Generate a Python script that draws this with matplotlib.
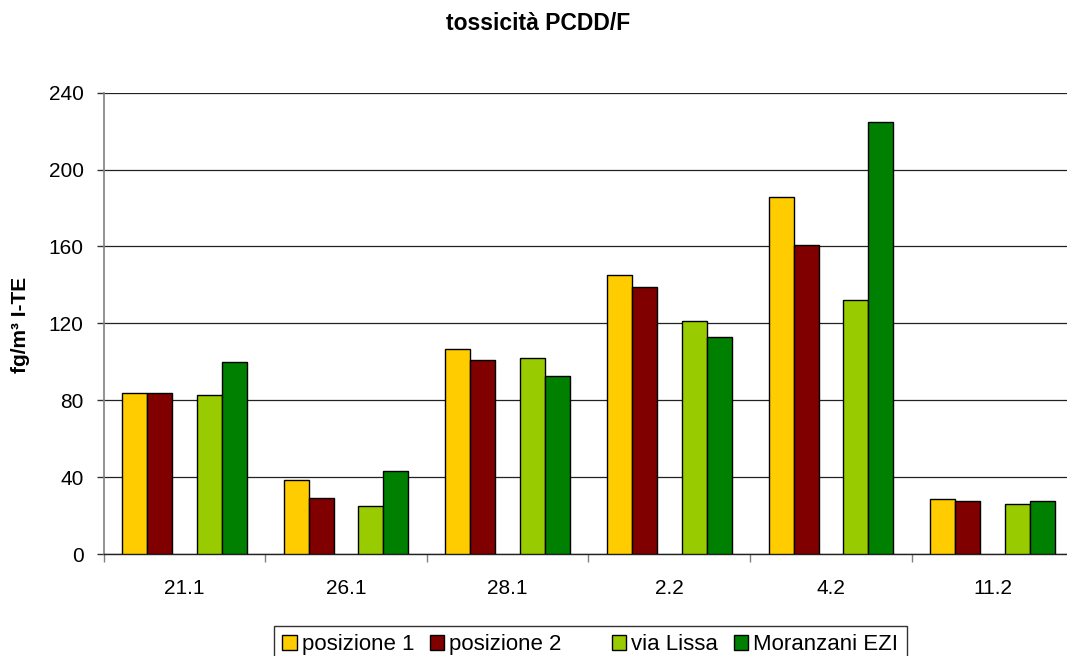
import matplotlib
matplotlib.use("Agg")
import matplotlib.pyplot as plt
from matplotlib.patches import Patch
import numpy as np

plt.rcParams['font.family'] = ['Liberation Sans', 'DejaVu Sans']

# Sampling dates
categories = ["21.1", "26.1", "28.1", "2.2", "4.2", "11.2"]

# Toxicity values (fg/m3 I-TE) per site
posizione_1 = [84, 38.5, 106.5, 145, 185.5, 28.5]
posizione_2 = [84, 29, 101, 139, 161, 27.5]
via_lissa = [82.5, 25, 102, 121, 132, 26]
moranzani_ezi = [100, 43, 92.5, 113, 225, 27.5]

series_labels = ["posizione 1", "posizione 2", "", "via Lissa", "Moranzani EZI"]
series_values = [posizione_1, posizione_2, None, via_lissa, moranzani_ezi]
series_colors = ["#FFCC00", "#800000", "none", "#99CC00", "#008000"]

yticks = [0, 40, 80, 120, 160, 200, 240]

W, H = 1067, 656
fig = plt.figure(figsize=(W / 100, H / 100), dpi=100)
ax = fig.add_axes([103.5 / W, (H - 554) / H, 970 / W, 461.3 / H])

x = np.arange(len(categories))
n_slots = len(series_values)
bar_w = 1 / (n_slots + 1.5)
for i, (vals, col) in enumerate(zip(series_values, series_colors)):
    if vals is None:
        continue
    offs = (i - (n_slots - 1) / 2) * bar_w
    ax.bar(x + offs, vals, width=bar_w, color=col, edgecolor="black",
           linewidth=1.0, zorder=3)

ax.set_xlim(-0.5, len(categories) - 0.5)
ax.set_ylim(0, 240)
ax.set_yticks(yticks)
ax.set_yticklabels([str(v) for v in yticks])
ax.yaxis.grid(True, color="#222222", linewidth=0.9, zorder=0)
ax.set_axisbelow(True)

ax.set_xticks(x)
ax.set_xticklabels(categories)
ax.set_xticks(np.arange(len(categories) + 1) - 0.5, minor=True)
ax.tick_params(axis="x", which="major", length=0, pad=18, labelsize=15)
ax.tick_params(axis="x", which="minor", length=6, width=1, color="#808080",
               direction="out")
ax.tick_params(axis="y", length=5, width=1, color="#333333", pad=9.4,
               labelsize=15, direction="out")

for side in ("top", "right"):
    ax.spines[side].set_visible(False)
ax.spines["left"].set_color("#808080")
ax.spines["left"].set_linewidth(1.2)
ax.spines["bottom"].set_color("#222222")
ax.spines["bottom"].set_linewidth(1.0)

fig.text(538 / W, 1 - 24 / H, "tossicità PCDD/F", ha="center", va="center",
         fontsize=16.5, fontweight="bold")
fig.text(21 / W, 1 - 325 / H, "fg/m³ I-TE", ha="center", va="center",
         rotation=90, fontsize=15, fontweight="bold")

handles = []
for lab, col in zip(series_labels, series_colors):
    if col == "none":
        handles.append(Patch(facecolor="none", edgecolor="none", label=lab))
    else:
        handles.append(Patch(facecolor=col, edgecolor="black", linewidth=1.0,
                             label=lab))
leg = fig.legend(handles=handles, loc="upper left",
                 bbox_to_anchor=(274 / W, 1 - 626 / H), ncol=5, fontsize=16,
                 frameon=True, fancybox=False, shadow=False,
                 handlelength=0.65, handleheight=0.65, handletextpad=0.22,
                 columnspacing=0.7, borderpad=0.38, borderaxespad=0)
leg.get_frame().set_edgecolor("black")
leg.get_frame().set_linewidth(1.0)

fig.savefig("out.png", dpi=100)
